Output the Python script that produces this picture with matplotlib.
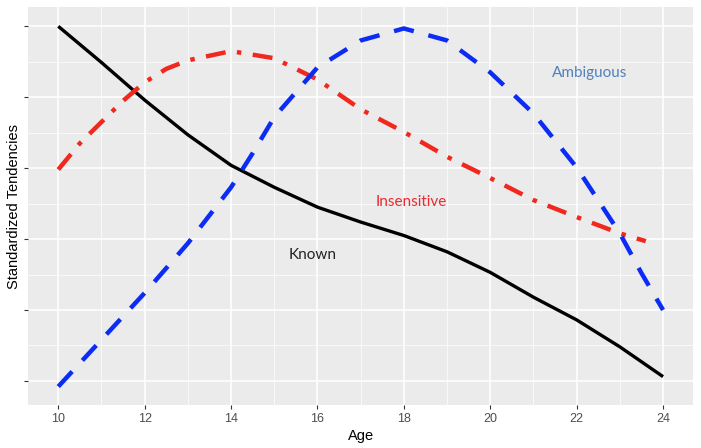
import matplotlib
matplotlib.use("Agg")
import matplotlib.pyplot as plt
from matplotlib.ticker import MultipleLocator

# values (y in tick units, 0 = lowest tick)
age = [10, 11, 12, 13, 14, 15, 16, 17, 18, 19, 20, 21, 22, 23, 24]
known = [5.0, 4.49, 3.96, 3.47, 3.04, 2.73, 2.45, 2.24, 2.05, 1.82, 1.53, 1.18, 0.86, 0.48, 0.06]

age_ins = [10, 10.5, 11, 11.5, 12, 12.5, 13, 14, 15, 16, 17, 18, 19, 20, 21, 22, 23, 23.6]
insensitive = [2.98, 3.35, 3.65, 3.95, 4.21, 4.4, 4.52, 4.65, 4.55, 4.25, 3.83, 3.51, 3.16, 2.86, 2.55, 2.31, 2.08, 1.97]

age_amb = [10, 11, 12, 13, 14, 14.5, 15, 16, 17, 18, 19, 20, 21, 22, 23, 23.5, 24]
ambiguous = [-0.08, 0.58, 1.24, 1.94, 2.73, 3.21, 3.72, 4.42, 4.8, 4.97, 4.8, 4.35, 3.77, 3.01, 2.08, 1.52, 1.0]

x_ticks = [10, 12, 14, 16, 18, 20, 22, 24]
y_ticks = [0, 1, 2, 3, 4, 5]

plt.rcParams["font.family"] = ["Liberation Sans", "DejaVu Sans"]
fig = plt.figure(figsize=(7.01, 4.48), dpi=100)
ax = fig.add_axes([0.040, 0.096, 0.949, 0.888])
ax.set_facecolor("#ebebeb")
for s in ax.spines.values():
    s.set_visible(False)

ax.set_xlim(9.3, 24.7)
ax.set_ylim(-0.34, 5.27)
ax.set_xticks(x_ticks)
ax.set_yticks(y_ticks)
ax.set_yticklabels([])
ax.xaxis.set_minor_locator(MultipleLocator(1))
ax.yaxis.set_minor_locator(MultipleLocator(0.5))
ax.grid(which="major", color="white", linewidth=1.1)
ax.grid(which="minor", color="white", linewidth=0.5)
ax.set_axisbelow(True)
ax.tick_params(which="major", length=3, width=0.8, color="#333333",
               labelsize=9, labelcolor="#4d4d4d", pad=3)
ax.tick_params(which="minor", length=0)

ax.plot(age, known, color="black", lw=2.4, solid_capstyle="butt", solid_joinstyle="round")
ax.plot(age_ins, insensitive, color="#f0281e", lw=3.2, dashes=(4.5, 2.6, 1.0, 2.6))
ax.plot(age_amb, ambiguous, color="#0b2cf5", lw=3.2, dashes=(4.6, 3.4))

lab_font = ["Lato", "DejaVu Sans"]
ax.text(22.31, 4.34, "Ambiguous", color="#4f81bd", fontsize=11, family=lab_font,
        ha="center", va="center")
ax.text(18.16, 2.52, "Insensitive", color="#ea2a2e", fontsize=11, family=lab_font,
        ha="center", va="center")
ax.text(15.89, 1.77, "Known", color="#222222", fontsize=11, family=lab_font,
        ha="center", va="center")

ax.set_xlabel("Age", fontsize=10.5, labelpad=3)
ax.set_ylabel("Standardized Tendencies", fontsize=10.5, va="center")
ax.yaxis.set_label_coords(-0.0205, 0.5)

fig.savefig("out.png", dpi=100)
